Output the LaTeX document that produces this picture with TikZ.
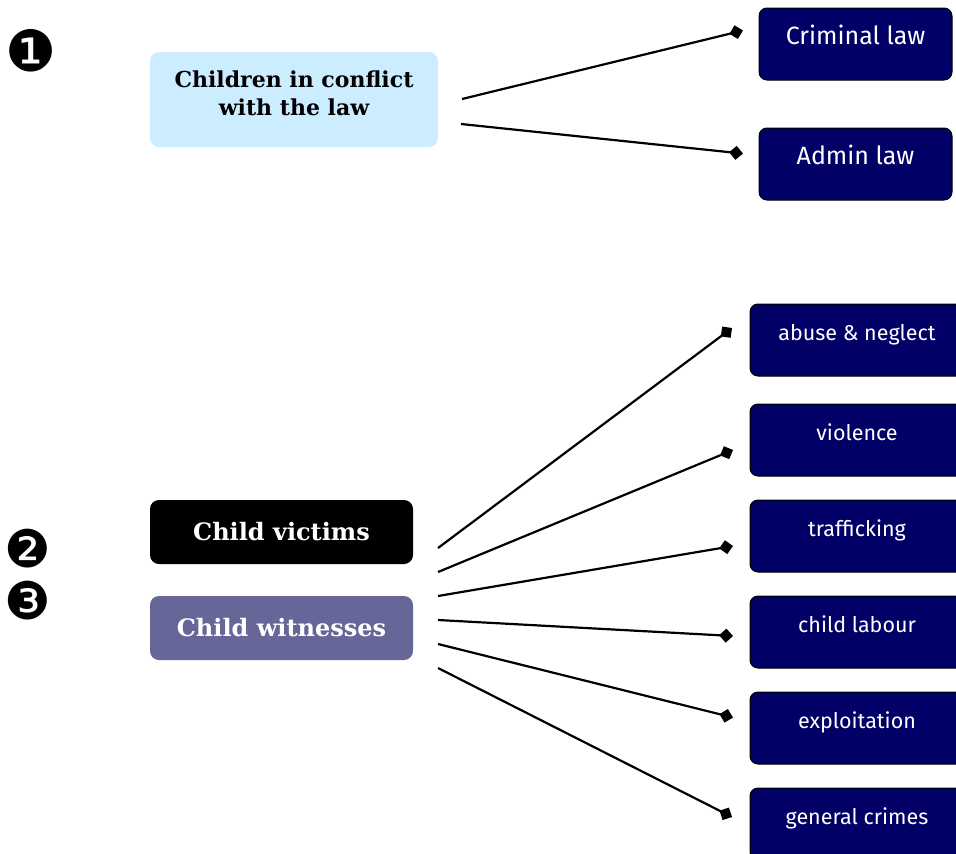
\documentclass[tikz,border=0pt]{standalone}
\usepackage{fontspec}
\usetikzlibrary{arrows.meta}
\newfontfamily\headfont{DejaVu Serif}
\newfontfamily\leaffont{Fira Sans}
\newfontfamily\numfont{DejaVu Sans}
\definecolor{paleblue}{HTML}{CCECFF}
\definecolor{navy}{HTML}{000066}
\definecolor{slate}{HTML}{666699}
\begin{document}
\begin{tikzpicture}[x=1pt,y=-1pt,
  group/.style={rounded corners=9pt, inner sep=0pt, align=center,
    font=\headfont\bfseries\fontsize{24}{28}\selectfont},
  leaf/.style={draw=black, line width=1pt, fill=navy, text=white,
    rounded corners=8pt, inner xsep=0pt, inner ysep=18pt,
    text height=18pt, text depth=18pt},
  toplaw/.style={leaf, minimum width=193pt, font=\leaffont\fontsize{25}{28}\selectfont},
  crime/.style={leaf, minimum width=214pt, font=\leaffont\fontsize{21.5}{24}\selectfont},
  link/.style={line width=2.2pt, -{Diamond[length=14pt,width=14pt]}},
  badge/.style={inner sep=0pt, font=\numfont\fontsize{52}{52}\selectfont}]
\useasboundingbox (0,0) rectangle (956,854);

% numbering
\node[badge, font=\numfont\fontsize{57}{57}\selectfont] (n1) at (31,51) {❶};
\node[badge] (n2) at (28,549) {❷};
\node[badge] (n3) at (28,601) {❸};

% left-hand groups
\node[group, fill=paleblue, minimum width=288pt, minimum height=95pt,
      font=\headfont\bfseries\fontsize{22}{28}\selectfont] (conflict) at (294,99.5)
      {Children in conflict\\with the law\rule[-13pt]{0pt}{0pt}};
\node[group, fill=black, text=white, minimum width=263pt, minimum height=64pt] (victims) at (281.5,532) {Child victims};
\node[group, fill=slate, text=white, minimum width=263pt, minimum height=64pt] (witnesses) at (281.5,628) {Child witnesses};

% right-hand categories
\node[toplaw] (crim) at (855.5,44) {Criminal law};
\node[toplaw] (admin) at (855.5,164) {Admin law};
\node[crime] (abuse) at (857,340) {abuse \& neglect};
\node[crime] (viol) at (857,440) {violence};
\node[crime] (traf) at (857,536) {trafficking};
\node[crime] (labour) at (857,632) {child labour};
\node[crime] (expl) at (857,728) {exploitation};
\node[crime] (gen) at (857,824) {general crimes};

% connector ends
\coordinate (s1) at (462,99);   \coordinate (t1) at (743,30.5);
\coordinate (s2) at (461,124);  \coordinate (t2) at (743,153.6);
\coordinate (s3) at (438,548);  \coordinate (t3) at (732,328);
\coordinate (s4) at (438,572);  \coordinate (t4) at (733,450);
\coordinate (s5) at (438,596);  \coordinate (t5) at (733,546);
\coordinate (s6) at (438,620);  \coordinate (t6) at (733,636);
\coordinate (s7) at (438,644);  \coordinate (t7) at (733,717.5);
\coordinate (s8) at (438,668);  \coordinate (t8) at (732,817);

\foreach \i in {1,...,8} \draw[link] (s\i) -- (t\i);
\end{tikzpicture}
\end{document}
